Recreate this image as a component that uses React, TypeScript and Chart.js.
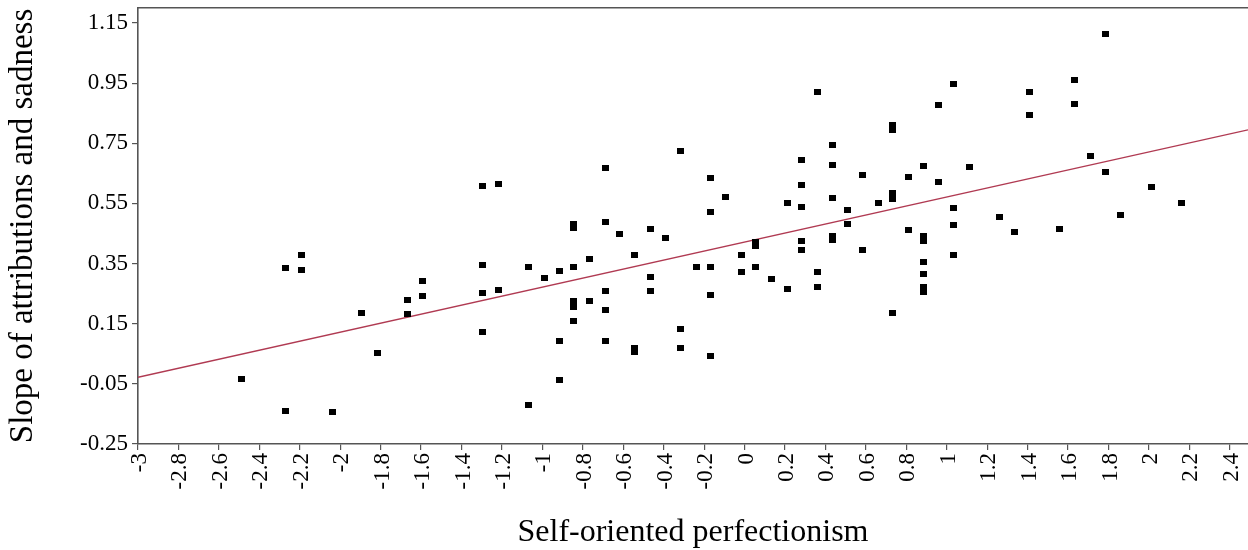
import React, { useEffect, useRef } from "react";
import { Chart, registerables } from "chart.js";

Chart.register(...registerables);

// Self-oriented perfectionism (x) for each participant
const perfectionism = [
  -2.49, -2.27, -2.19, -2.19, -2.27, -2.04, -1.893, -1.817, -1.669, -1.669,
  -1.592, -1.592, -1.294, -1.218, -1.294, -1.294, -1.218, -1.294, -1.068, -0.991,
  -0.915, -0.915, -0.915, -1.068, -0.844, -0.844, -0.844, -0.844, -0.844, -0.844,
  -0.767, -0.767, -0.689, -0.689, -0.689, -0.689, -0.689, -0.619, -0.543, -0.543,
  -0.543, -0.466, -0.466, -0.466, -0.393, -0.316, -0.316, -0.316, -0.24, -0.169,
  -0.169, -0.169, -0.169, -0.169, -0.092, -0.016, -0.016, 0.056, 0.056, 0.056,
  0.133, 0.21, 0.21, 0.284, 0.284, 0.284, 0.284, 0.284, 0.359, 0.359,
  0.359, 0.436, 0.436, 0.436, 0.436, 0.436, 0.509, 0.509, 0.584, 0.584,
  0.66, 0.734, 0.734, 0.734, 0.734, 0.734, 0.81, 0.81, 0.886, 0.886,
  0.886, 0.886, 0.886, 0.886, 0.886, 0.958, 0.958, 1.034, 1.034, 1.034,
  1.034, 1.111, 1.259, 1.337, 1.407, 1.407, 1.56, 1.633, 1.633, 1.71,
  1.786, 1.786, 1.858, 2.012, 2.16,
];

// Slope of attributions and sadness (y) for each participant
const slopeValues = [
  -0.033, 0.335, 0.377, 0.328, -0.141, -0.145, 0.187, 0.052, 0.228, 0.181,
  0.292, 0.241, 0.607, 0.616, 0.344, 0.253, 0.262, 0.122, 0.337, 0.302,
  0.325, 0.094, -0.038, -0.12, 0.48, 0.468, 0.337, 0.227, 0.205, 0.159,
  0.364, 0.225, 0.668, 0.489, 0.258, 0.195, 0.091, 0.449, 0.377, 0.068,
  0.056, 0.464, 0.305, 0.258, 0.434, 0.726, 0.134, 0.07, 0.34, 0.634,
  0.52, 0.34, 0.244, 0.044, 0.571, 0.379, 0.321, 0.422, 0.408, 0.337,
  0.298, 0.553, 0.265, 0.695, 0.61, 0.537, 0.424, 0.395, 0.92, 0.321,
  0.271, 0.743, 0.677, 0.567, 0.441, 0.43, 0.527, 0.483, 0.644, 0.396,
  0.55, 0.812, 0.793, 0.585, 0.566, 0.185, 0.638, 0.461, 0.674, 0.443,
  0.426, 0.356, 0.316, 0.272, 0.256, 0.878, 0.622, 0.946, 0.534, 0.477,
  0.377, 0.67, 0.506, 0.456, 0.92, 0.843, 0.464, 0.962, 0.88, 0.707,
  1.113, 0.653, 0.51, 0.604, 0.55,
];

// Fitted regression line, read at the two ends of the x axis
const fitX = [-3, 2.49];
const fitY = [-0.028, 0.795];

const xTickValues = [
  -3, -2.8, -2.6, -2.4, -2.2, -2, -1.8, -1.6, -1.4, -1.2, -1, -0.8, -0.6, -0.4,
  -0.2, 0, 0.2, 0.4, 0.6, 0.8, 1, 1.2, 1.4, 1.6, 1.8, 2, 2.2, 2.4,
];
const xTickLabels = [
  "-3", "-2.8", "-2.6", "-2.4", "-2.2", "-2", "-1.8", "-1.6", "-1.4", "-1.2", "-1",
  "-0.8", "-0.6", "-0.4", "-0.2", "0", "0.2", "0.4", "0.6", "0.8", "1", "1.2",
  "1.4", "1.6", "1.8", "2", "2.2", "2.4",
];
const yTickValues = [-0.25, -0.05, 0.15, 0.35, 0.55, 0.75, 0.95, 1.15];
const yTickLabels = ["-0.25", "-0.05", "0.15", "0.35", "0.55", "0.75", "0.95", "1.15"];

const X_MIN = -3;
const X_MAX = 2.49;
const Y_MIN = -0.25;
const Y_MAX = 1.2;

const FONT = "'Liberation Serif', 'DejaVu Serif', serif";
const AXIS_COLOR = "#555555";

function labelFor(values: number[], labels: string[], v: number): string {
  for (let i = 0; i < values.length; i++) {
    if (Math.abs(values[i] - v) < 1e-9) return labels[i];
  }
  return "";
}

export default function App() {
  const canvasRef = useRef<HTMLCanvasElement | null>(null);

  useEffect(() => {
    const canvas = canvasRef.current;
    if (!canvas) return;

    const marker = document.createElement("canvas");
    marker.width = 7;
    marker.height = 6;
    const mctx = marker.getContext("2d");
    if (mctx) {
      mctx.fillStyle = "#000000";
      mctx.fillRect(0, 0, 7, 6);
    }

    const points = perfectionism.map((x, i) => ({ x, y: slopeValues[i] }));
    const fitPoints = fitX.map((x, i) => ({ x, y: fitY[i] }));

    const chart = new Chart(canvas, {
      type: "scatter",
      data: {
        datasets: [
          {
            type: "line",
            data: fitPoints,
            borderColor: "#b03a52",
            borderWidth: 1.3,
            pointRadius: 0,
            fill: false,
            order: 2,
            xAxisID: "x",
            yAxisID: "y",
          } as any,
          {
            type: "scatter",
            data: points,
            pointStyle: marker,
            pointRadius: 4,
            backgroundColor: "#000000",
            borderWidth: 0,
            order: 1,
            xAxisID: "x",
            yAxisID: "y",
          } as any,
        ],
      },
      options: {
        animation: false,
        responsive: false,
        maintainAspectRatio: false,
        layout: { padding: 0, autoPadding: false },
        plugins: {
          legend: { display: false },
          tooltip: { enabled: false },
        },
        scales: {
          x: {
            type: "linear",
            position: "bottom",
            min: X_MIN,
            max: X_MAX,
            afterBuildTicks: (s: any) => {
              s.ticks = xTickValues.map((v) => ({ value: v }));
            },
            afterFit: (s: any) => {
              s.height = 106;
              s.paddingLeft = 0;
              s.paddingRight = 0;
            },
            ticks: {
              autoSkip: false,
              minRotation: 90,
              maxRotation: 90,
              padding: 3,
              labelOffset: 2,
              color: "#000000",
              font: { family: FONT, size: 23 },
              callback: (v: any) => labelFor(xTickValues, xTickLabels, Number(v)),
            },
            grid: {
              drawOnChartArea: false,
              drawTicks: true,
              tickLength: 6,
              color: AXIS_COLOR,
              lineWidth: 1.2,
            },
            border: { display: true, color: AXIS_COLOR, width: 1.6 },
            title: {
              display: true,
              text: "Self-oriented perfectionism",
              color: "#000000",
              font: { family: FONT, size: 32 },
              padding: { top: 0, bottom: -2 },
            },
          },
          xTop: {
            type: "linear",
            position: "top",
            min: X_MIN,
            max: X_MAX,
            afterFit: (s: any) => {
              s.height = 8;
              s.paddingLeft = 0;
              s.paddingRight = 0;
            },
            ticks: { display: false },
            grid: { display: false, drawTicks: false },
            border: { display: true, color: AXIS_COLOR, width: 1.6 },
          },
          y: {
            type: "linear",
            position: "left",
            min: Y_MIN,
            max: Y_MAX,
            afterBuildTicks: (s: any) => {
              s.ticks = yTickValues.map((v) => ({ value: v }));
            },
            afterFit: (s: any) => {
              s.width = 138;
              s.paddingTop = 0;
              s.paddingBottom = 0;
            },
            ticks: {
              autoSkip: false,
              padding: 4,
              color: "#000000",
              font: { family: FONT, size: 23 },
              callback: (v: any) => labelFor(yTickValues, yTickLabels, Number(v)),
            },
            grid: {
              drawOnChartArea: false,
              drawTicks: true,
              tickLength: 6,
              color: AXIS_COLOR,
              lineWidth: 1.2,
            },
            border: { display: true, color: AXIS_COLOR, width: 1.6 },
            title: {
              display: true,
              text: "Slope of attributions and sadness",
              color: "#000000",
              font: { family: FONT, size: 33 },
              padding: { top: 4, bottom: 0 },
            },
          },
        },
      } as any,
    });

    return () => {
      chart.destroy();
    };
  }, []);

  return (
    <div
      style={{
        position: "absolute",
        left: 0,
        top: 0,
        width: 1248,
        height: 550,
        background: "#ffffff",
      }}
    >
      <canvas ref={canvasRef} width={1248} height={550} />
    </div>
  );
}
